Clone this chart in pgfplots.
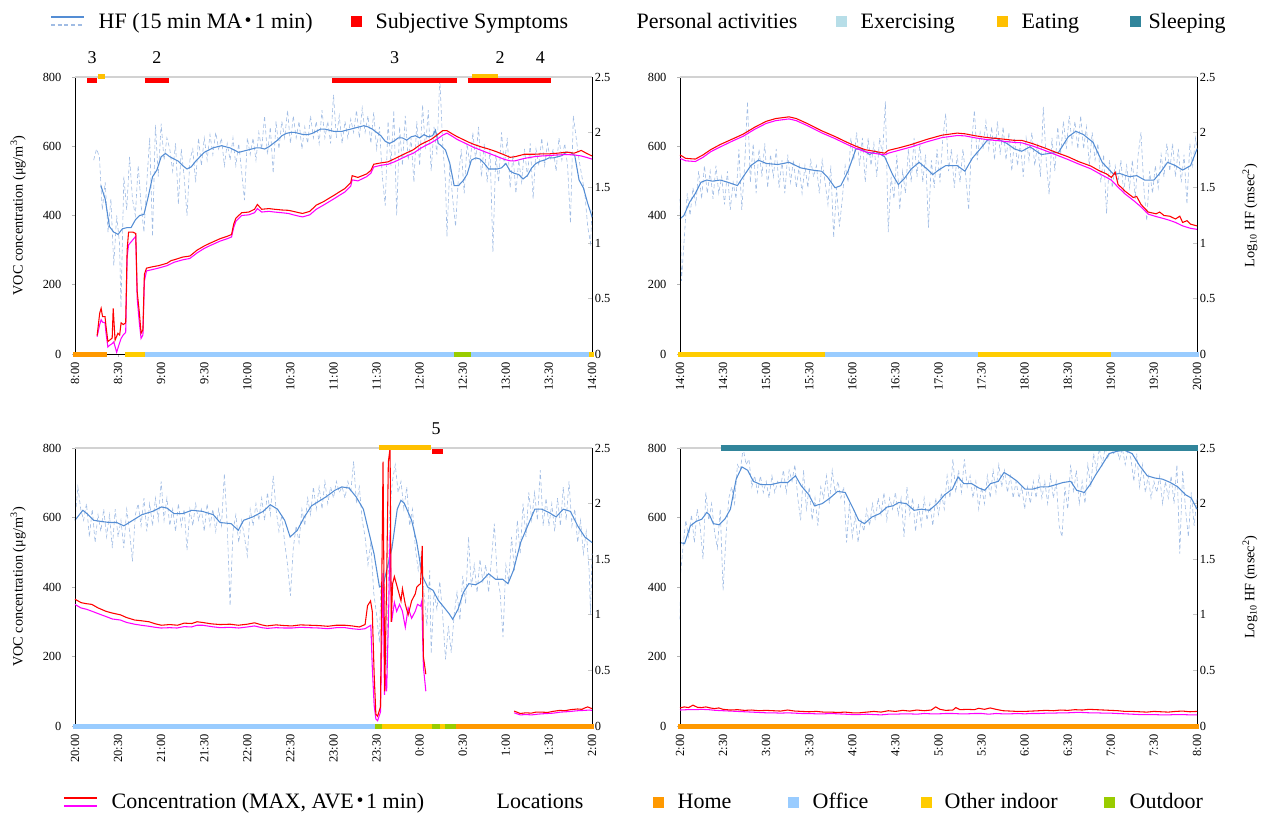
\documentclass[border=0pt]{standalone}
\usepackage{fontspec}
\setmainfont{Liberation Serif}
\newfontfamily\cjk{Noto Sans CJK JP}
\usepackage{pgfplots}
\pgfplotsset{compat=1.18}

\definecolor{hfmac}{RGB}{84,141,212}
\definecolor{hfrawc}{RGB}{160,188,228}
\definecolor{maxc}{RGB}{255,0,0}
\definecolor{avec}{RGB}{255,0,255}
\definecolor{homec}{RGB}{255,153,0}
\definecolor{officec}{RGB}{153,204,255}
\definecolor{otherc}{RGB}{255,204,0}
\definecolor{outdoorc}{RGB}{153,204,0}
\definecolor{eatingc}{RGB}{255,192,0}
\definecolor{exercisec}{RGB}{183,222,232}
\definecolor{sleepc}{RGB}{49,133,155}
\definecolor{symptomc}{RGB}{255,0,0}

\newcommand\tickfont{\fontsize{9.3pt}{10pt}\selectfont}
\newcommand\labfont{\fontsize{10.7pt}{12pt}\selectfont}
\newcommand\legfont{\fontsize{16.5pt}{18pt}\selectfont}
\newcommand\numfont{\fontsize{13.5pt}{15pt}\selectfont}
\newcommand\middot{\kern-0.22em{\cjk ・}\kern-0.22em}

\pgfplotsset{
  panel/.style={scale only axis, width=387.75pt, xmin=0, xmax=360, clip=false, anchor=south west},
  hfax/.style={panel, ymin=0, ymax=2.5, axis x line=none, axis y line*=right,
    ytick={0,0.5,1,1.5,2,2.5}, yticklabels={0,0.5,1,1.5,2,2.5},
    tick align=inside, major tick length=3pt,
    ytick style={draw=gray!45, line width=0.5pt},
    y axis line style={black, line width=0.6pt},
    yticklabel style={font=\tickfont, anchor=west, inner sep=0pt, xshift=2pt}},
  vocax/.style={panel, ymin=0, ymax=800, axis x line*=bottom, axis y line*=left,
    ytick={0,200,400,600,800}, yticklabels={0,200,400,600,800},
    xtick={0,30,...,360},
    tick align=outside, major tick length=2pt,
    tick style={draw=gray!60, line width=0.5pt},
    axis line style={black, line width=0.6pt},
    yticklabel style={font=\tickfont, anchor=east, inner sep=0pt, xshift=-8pt},
    xticklabel style={font=\tickfont, rotate=90, anchor=east, inner sep=0pt},
    xticklabel shift=4pt},
  hfraw/.style={color=hfrawc, densely dashed, line width=0.45pt, forget plot},
  hfma/.style={color=hfmac, line width=0.8pt, forget plot},
  vmax/.style={color=maxc, line width=0.8pt, forget plot},
  vave/.style={color=avec, line width=0.8pt, forget plot},
  locbar/.style={line width=3.75pt, forget plot},
  topbar/.style={line width=3.8pt, forget plot},
  vlab/.style={ylabel={VOC concentration (μg/m\textsuperscript{3})},
    ylabel style={font=\labfont, at={(axis description cs:-0.110,0.5)}, anchor=center}},
  hlab/.style={ylabel={Log\textsubscript{10} HF (msec\textsuperscript{2})},
    ylabel style={font=\labfont, at={(axis description cs:1.1025,0.5)}, anchor=center}},
}
\newcommand\topline{\draw[gray!35, line width=1.1pt] (axis cs:0,800) -- (axis cs:360,800);}

\begin{document}
\begin{tikzpicture}
\useasboundingbox (0,0) rectangle (946.5pt,-610.5pt);

%% ---------------- Panel 1: 8:00-14:00 ----------------
\begin{axis}[hfax, at={(56.25pt,-265.5pt)}, height=207.75pt]
\addplot[hfraw] coordinates {(13,1.75) (15,1.85) (17,1.78) (19,1.30) (21,1.55) (23,1.10) (25,1.40) (27,0.80) (29,1.25) (31,1.00) (32,0.42) (34,1.60) (36,1.30) (38,1.78) (40,1.40) (42,1.25) (44,1.70) (46,1.35) (48,1.10) (50,1.55) (52,1.95) (54,1.06) (56,2.07) (58,1.60) (60,2.08) (62,1.75) (64,1.95) (66,1.85) (68,1.65) (70,1.90) (72,1.35) (74,1.85) (76,1.60) (78,1.25) (80,1.75) (82,1.85) (84,1.55) (86,1.95) (88,1.70) (90,1.95) (92,1.75) (94,1.98) (96,1.80) (98,2.00) (100,1.85) (102,1.95) (104,1.70) (106,1.90) (108,1.75) (110,1.95) (112,1.70) (114,1.90) (116,1.65) (118,1.39) (120,1.95) (122,1.80) (124,1.95) (126,1.75) (128,2.00) (130,1.85) (132,2.15) (134,1.80) (136,2.05) (138,1.63) (140,2.10) (142,1.85) (144,2.10) (146,1.95) (148,2.20) (150,1.90) (152,2.15) (154,1.95) (156,2.10) (158,1.85) (160,2.05) (162,1.90) (164,2.15) (166,1.95) (168,2.10) (170,1.90) (172,2.20) (174,1.95) (176,2.10) (178,1.90) (180,2.34) (182,1.95) (184,2.15) (186,1.90) (188,2.10) (190,1.95) (192,2.12) (194,2.00) (196,2.20) (198,1.95) (200,2.22) (202,2.00) (204,2.15) (206,1.90) (208,2.18) (210,1.85) (212,2.05) (214,1.60) (216,1.34) (218,2.10) (220,1.70) (222,2.20) (224,1.25) (226,2.05) (228,1.70) (230,2.15) (232,1.75) (234,1.95) (236,1.55) (238,2.10) (240,1.70) (242,2.25) (244,1.85) (246,2.20) (248,1.65) (250,2.05) (252,1.80) (254,2.50) (256,1.90) (258,1.55) (259,1.06) (261,1.70) (263,1.40) (265,1.15) (267,1.60) (269,1.85) (271,1.45) (273,1.90) (275,1.70) (277,2.00) (279,1.75) (281,2.05) (283,1.60) (285,1.90) (287,1.55) (289,1.85) (291,0.92) (293,1.80) (295,1.55) (297,2.00) (299,1.70) (301,1.95) (303,1.50) (305,1.80) (307,1.45) (309,1.75) (311,1.55) (313,1.85) (315,1.60) (317,1.90) (319,1.40) (321,1.85) (323,1.70) (325,1.95) (327,1.70) (329,1.90) (331,1.75) (333,1.85) (335,1.65) (337,1.95) (339,1.75) (341,1.90) (343,1.70) (345,1.18) (347,2.15) (349,1.95) (351,1.75) (353,1.60) (355,1.45) (357,1.15) (359,1.00) (360,1.30)};
\addplot[hfma] coordinates {(18,1.52) (21,1.40) (24,1.15) (27,1.10) (30,1.08) (33,1.13) (36,1.14) (39,1.14) (42,1.21) (45,1.25) (48,1.26) (51,1.42) (54,1.60) (57,1.66) (60,1.78) (63,1.81) (66,1.78) (69,1.76) (72,1.74) (75,1.70) (78,1.67) (81,1.69) (84,1.74) (87,1.78) (90,1.82) (93,1.84) (96,1.86) (99,1.87) (102,1.88) (105,1.87) (108,1.86) (111,1.84) (114,1.82) (117,1.83) (120,1.84) (123,1.85) (126,1.86) (129,1.86) (132,1.85) (135,1.87) (138,1.90) (141,1.93) (144,1.97) (147,1.99) (150,2.00) (153,2.00) (156,1.99) (159,1.98) (162,1.98) (165,1.99) (168,2.01) (171,2.03) (174,2.03) (177,2.02) (180,2.01) (183,2.01) (186,2.01) (189,2.02) (192,2.03) (195,2.04) (198,2.05) (201,2.06) (204,2.05) (207,2.03) (210,2.00) (213,1.97) (216,1.92) (219,1.90) (222,1.92) (225,1.95) (228,1.95) (231,1.93) (234,1.96) (237,1.97) (240,1.95) (243,1.98) (246,1.96) (249,1.97) (251,2.02) (253,1.90) (255,1.88) (258,1.84) (261,1.72) (264,1.52) (267,1.52) (270,1.56) (273,1.62) (276,1.75) (279,1.77) (282,1.76) (285,1.72) (288,1.67) (291,1.67) (294,1.67) (297,1.68) (300,1.72) (303,1.65) (306,1.63) (309,1.62) (312,1.58) (315,1.61) (318,1.68) (321,1.72) (324,1.74) (327,1.75) (330,1.77) (333,1.77) (336,1.78) (339,1.79) (342,1.82) (345,1.82) (348,1.79) (351,1.57) (354,1.50) (357,1.36) (360,1.24)};
\end{axis}
\begin{axis}[vocax, vlab, at={(56.25pt,-265.5pt)}, height=207.75pt,
  xticklabels={8:00,8:30,9:00,9:30,10:00,10:30,11:00,11:30,12:00,12:30,13:00,13:30,14:00}]
\topline
\addplot[vave] coordinates {(15.4,50) (17.2,85) (18.2,99) (19.2,92) (20.9,90) (21.6,60) (22.9,20) (24.1,25) (25.9,30) (27.0,35) (29.0,5) (30.5,25) (32.1,45) (33.6,55) (35.3,62) (36.3,280) (37.3,315) (40.3,330) (42.3,340) (43.3,160) (44.8,90) (46,45) (47.3,55) (48.3,210) (49.8,240) (54,244) (58,248) (64,255) (69,265) (75,272) (80,276) (85,292) (90,305) (94,313) (101,326) (106,333) (109,338) (110.5,365) (112,383) (116,400) (121,402) (125,408) (127,420) (130,410) (135,412) (139,410) (144,408) (148.5,406) (152,402) (156,398) (158.5,396) (163.5,402) (168,418) (173,430) (177,440) (181,450) (184,458) (188,468) (192,485) (193,503) (197,500) (203,512) (206,522) (208,540) (213,545) (218,548) (223,556) (228,566) (232,574) (235.6,580) (240.6,594) (244,602) (248,610) (252,620) (256,632) (259,638) (263,628) (266,620) (270,612) (274,604) (278,596) (283,588) (288,580) (293,572) (299,562) (303,558) (306.5,558) (313,565) (320,570) (325,572) (330,573) (336,575) (342.6,576) (347.6,575) (352.5,572) (356,568) (360,563)};
\addplot[vmax] coordinates {(15.4,53) (17.2,118) (18.2,132) (19.2,108) (20.9,108) (21.6,80) (22.9,36) (24.1,40) (25.9,46) (26.6,132) (27.9,40) (29.9,60) (31.1,55) (32.1,90) (33.6,85) (35.3,90) (36.3,300) (37.3,352) (40.3,352) (42.3,348) (43.3,180) (44.8,120) (46,60) (47.3,70) (48.3,230) (49.8,248) (54,252) (58,255) (64,262) (67,270) (69,272) (75,280) (80,283) (85,300) (90,312) (94,320) (101,333) (106,340) (109,345) (110.5,375) (112,392) (116,408) (121,410) (125,418) (127,432) (130,418) (135,420) (139,418) (144,416) (148.5,415) (152,412) (156,408) (158.5,406) (163.5,412) (168,430) (173,440) (177,450) (181,460) (184,468) (188,478) (192,495) (193,515) (197,510) (203,520) (206,530) (208,548) (213,552) (218,555) (223,565) (228,575) (232,583) (235.6,590) (240.6,605) (244,612) (248,620) (252,632) (256,645) (259,645) (263,635) (266,628) (270,620) (274,612) (278,605) (283,598) (288,592) (293,585) (299,575) (303,568) (306.5,570) (313,577) (320,577) (325,578) (330,578) (336,580) (342.6,583) (347.6,580) (352.5,588) (356,580) (360,572)};
% locations
\addplot[locbar, homec] coordinates {(-1.2,0) (22,0)};
\addplot[locbar, otherc] coordinates {(35,0) (49,0)};
\addplot[locbar, officec] coordinates {(49,0) (264,0)};
\addplot[locbar, outdoorc] coordinates {(264,0) (276,0)};
\addplot[locbar, officec] coordinates {(276,0) (358,0)};
\addplot[locbar, otherc] coordinates {(358,0) (361.2,0)};
% activities and symptoms
\addplot[topbar, eatingc] coordinates {(16,801) (21,801)};
\addplot[topbar, eatingc, line width=3pt] coordinates {(276.7,803) (294.8,803)};
\addplot[topbar, symptomc] coordinates {(8.7,789) (15.4,789)};
\addplot[topbar, symptomc] coordinates {(48.5,789) (65.7,789)};
\addplot[topbar, symptomc] coordinates {(179,789) (266,789)};
\addplot[topbar, symptomc] coordinates {(273.4,789) (331.4,789)};
\node[font=\numfont, anchor=base] at (axis cs:12,800) [yshift=10pt] {3};
\node[font=\numfont, anchor=base] at (axis cs:57,800) [yshift=10pt] {2};
\node[font=\numfont, anchor=base] at (axis cs:222.5,800) [yshift=10pt] {3};
\node[font=\numfont, anchor=base] at (axis cs:296,800) [yshift=10pt] {2};
\node[font=\numfont, anchor=base] at (axis cs:324,800) [yshift=10pt] {4};
\end{axis}

%% ---------------- Panel 2: 14:00-20:00 ----------------
\begin{axis}[hfax, hlab, at={(510pt,-265.5pt)}, height=207.75pt]
\addplot[hfraw] coordinates {(0,1.40) (1,0.66) (3,1.05) (5,1.45) (7,1.25) (9,1.50) (11,1.35) (13,1.65) (15,1.40) (17,1.70) (19,1.45) (21,1.65) (23,1.40) (25,1.70) (27,1.45) (29,1.60) (31,1.35) (33,1.65) (35,1.30) (37,1.55) (39,1.40) (41,1.85) (43,1.30) (45,1.70) (47,2.28) (49,1.55) (51,1.90) (53,1.45) (55,1.85) (57,1.60) (59,1.90) (61,1.50) (63,1.80) (65,1.60) (67,1.85) (69,1.50) (71,1.75) (73,1.45) (75,1.80) (77,1.55) (79,1.75) (81,1.50) (83,1.70) (85,1.45) (87,1.70) (89,1.50) (91,1.75) (93,1.60) (95,1.70) (97,1.45) (99,1.75) (101,1.55) (103,1.35) (105,1.70) (107,1.05) (109,1.50) (111,1.15) (113,1.40) (115,1.70) (117,1.55) (119,1.95) (121,1.75) (123,2.00) (125,1.70) (127,1.95) (129,1.55) (131,1.95) (133,1.70) (135,1.90) (137,1.60) (139,1.95) (141,1.80) (143,2.28) (145,1.10) (147,1.60) (149,1.40) (151,1.80) (153,1.30) (155,1.65) (157,1.45) (159,1.85) (161,1.55) (163,1.95) (165,1.60) (167,1.90) (169,1.55) (171,1.80) (173,1.14) (175,1.75) (177,1.50) (179,1.85) (181,1.55) (183,1.95) (185,2.17) (187,1.65) (189,1.85) (191,1.50) (193,1.80) (195,1.55) (197,1.85) (199,1.60) (201,1.30) (203,1.90) (205,2.20) (207,1.75) (209,2.00) (211,1.85) (213,2.10) (215,1.85) (217,2.05) (219,1.75) (221,2.10) (223,1.80) (225,2.05) (227,1.75) (229,2.00) (231,1.65) (233,1.95) (235,1.70) (237,1.90) (239,1.60) (241,1.95) (243,1.75) (245,2.00) (247,1.70) (249,1.90) (251,1.60) (253,2.23) (255,1.75) (257,1.44) (259,1.95) (261,1.65) (263,2.05) (265,1.80) (267,2.10) (269,1.85) (271,2.15) (273,1.90) (275,2.10) (277,1.85) (279,2.15) (281,1.85) (283,2.05) (285,1.70) (287,2.00) (289,1.75) (291,1.90) (293,1.55) (295,1.80) (297,1.27) (299,1.75) (301,1.50) (303,1.70) (305,1.55) (307,1.75) (309,1.45) (311,1.70) (313,1.50) (315,1.75) (317,1.40) (319,1.80) (321,2.00) (323,1.50) (325,1.20) (327,1.65) (329,1.45) (331,1.70) (333,1.50) (335,1.80) (337,1.60) (339,1.90) (341,1.65) (343,1.90) (345,1.60) (347,1.85) (349,1.55) (351,1.80) (353,1.35) (355,1.90) (357,1.70) (359,1.95) (360,1.85)};
\addplot[hfma] coordinates {(0,1.22) (2.7,1.25) (6.7,1.37) (10.7,1.45) (14.6,1.55) (18.6,1.57) (22.6,1.56) (28,1.57) (33.3,1.55) (40,1.52) (44,1.60) (49.3,1.70) (54.6,1.75) (60,1.72) (68,1.71) (76,1.73) (84,1.68) (92,1.66) (98.5,1.65) (102.5,1.60) (108,1.50) (112,1.52) (117,1.65) (122.5,1.85) (126.5,1.85) (132,1.80) (136,1.83) (142.5,1.78) (148,1.62) (152,1.53) (156,1.58) (161,1.67) (166.5,1.73) (172,1.67) (176,1.62) (180,1.66) (185,1.70) (193,1.70) (198.4,1.65) (203.7,1.77) (209,1.85) (214,1.93) (219.7,1.95) (227.7,1.90) (233,1.85) (238,1.83) (243.7,1.87) (251.6,1.80) (257,1.81) (263.6,1.82) (270.3,1.96) (275.6,2.01) (281,1.98) (287.6,1.91) (294,1.73) (302,1.62) (306,1.63) (313,1.60) (318,1.61) (323.5,1.57) (330,1.57) (334,1.63) (339.5,1.73) (345,1.70) (350,1.66) (355.5,1.70) (360,1.85)};
\end{axis}
\begin{axis}[vocax, at={(510pt,-265.5pt)}, height=207.75pt,
  xticklabels={14:00,14:30,15:00,15:30,16:00,16:30,17:00,17:30,18:00,18:30,19:00,19:30,20:00}]
\topline
\addplot[vave] coordinates {(0,565) (4,558) (10.7,556) (16,568) (21.3,584) (28,598) (36,614) (44,629) (52,649) (60,666) (66.6,674) (75.9,679) (81,674) (89,659) (98.5,639) (108,622) (116,606) (122.5,594) (129,584) (136,579) (142.5,575) (145,580) (153,589) (161,598) (172,613) (182.4,625) (193,631) (198.4,630) (206,624) (214,619) (222,616) (233,611) (238,610) (246,600) (254,588) (262,575) (270,562) (278,548) (286,535) (291.6,522) (297,510) (300.4,502) (305,482) (310,462) (315.6,444) (321,425) (326,404) (331.5,397) (337,391) (341,386) (345,380) (350,370) (355.5,363) (360,360)};
\addplot[vmax] coordinates {(0,575) (4,565) (10.7,563) (16,575) (21.3,590) (28,605) (36,620) (44,635) (52,655) (60,672) (66.6,680) (75.9,685) (81,680) (89,665) (98.5,645) (108,628) (116,612) (122.5,600) (129,590) (136,585) (142.5,580) (145,588) (153,596) (161,605) (172,620) (182.4,632) (193,638) (198.4,636) (206,630) (214,625) (222,622) (233,617) (238,617) (246,607) (254,595) (262,582) (270,570) (278,555) (286,543) (291.6,530) (297,520) (300.4,510) (303,525) (305,490) (310,470) (315.6,452) (318,455) (321,432) (326,410) (331.5,405) (334,410) (337,400) (341,398) (345,390) (348,398) (350,380) (353,385) (355.5,375) (360,370)};
\addplot[locbar, otherc] coordinates {(-1.2,0) (100.7,0)};
\addplot[locbar, officec] coordinates {(100.7,0) (207.7,0)};
\addplot[locbar, otherc] coordinates {(207.7,0) (300.4,0)};
\addplot[locbar, officec] coordinates {(300.4,0) (361.2,0)};
\end{axis}

%% ---------------- Panel 3: 20:00-2:00 ----------------
\begin{axis}[hfax, at={(56.25pt,-544.5pt)}, height=208.5pt]
\addplot[hfraw] coordinates {(0,1.85) (2,2.15) (4,1.95) (6,1.85) (8,2.00) (10,1.70) (12,1.95) (14,1.65) (16,1.90) (18,1.75) (20,1.95) (22,1.70) (24,1.90) (26,1.60) (28,1.95) (30,1.70) (32,1.85) (34,1.60) (36,1.95) (38,1.75) (40,1.48) (42,1.90) (44,2.00) (46,1.80) (48,2.05) (50,1.75) (52,2.00) (54,1.80) (56,2.05) (58,1.85) (60,2.20) (62,1.85) (64,2.05) (66,1.80) (68,1.95) (70,1.75) (72,2.00) (74,1.80) (76,1.95) (78,1.58) (80,1.95) (82,1.80) (84,2.00) (86,1.85) (88,1.95) (90,1.75) (92,2.00) (94,1.80) (96,1.95) (98,1.75) (100,1.95) (102,1.80) (104,2.27) (106,1.80) (108,1.08) (110,1.75) (112,1.90) (114,1.65) (116,1.85) (118,1.70) (120,1.53) (122,1.95) (124,1.80) (126,2.00) (128,1.85) (130,2.05) (132,1.85) (134,2.10) (136,1.90) (138,2.25) (140,1.95) (142,1.75) (144,1.90) (146,1.65) (148,1.45) (150,1.17) (152,1.60) (154,1.80) (156,1.65) (158,1.95) (160,1.80) (162,2.05) (164,1.90) (166,2.15) (168,1.95) (170,2.15) (172,1.95) (174,2.20) (176,2.00) (178,2.15) (180,2.05) (182,2.20) (184,2.10) (186,2.15) (188,2.05) (190,2.20) (192,2.10) (194,2.38) (196,2.00) (198,2.15) (200,1.85) (202,1.70) (204,1.45) (206,1.65) (208,1.20) (210,1.00) (212,0.75) (213,1.30) (215,1.40) (217,0.50) (219,1.90) (221,2.20) (223,2.35) (225,2.10) (227,2.20) (229,1.95) (231,2.15) (233,1.80) (235,1.95) (237,1.60) (239,1.40) (241,1.55) (243,1.20) (245,0.90) (247,1.40) (248,0.65) (250,1.20) (252,1.05) (254,1.30) (256,1.00) (258,0.60) (260,0.90) (262,0.66) (264,1.00) (266,1.20) (268,0.95) (270,1.35) (272,1.10) (274,1.70) (276,1.25) (278,1.45) (280,1.20) (282,1.50) (284,1.30) (286,1.45) (288,1.20) (290,1.50) (292,1.82) (294,1.35) (296,1.20) (298,0.80) (300,1.45) (302,1.30) (304,1.70) (306,1.40) (308,1.85) (310,1.55) (312,2.00) (314,1.70) (316,2.10) (318,1.85) (320,2.10) (322,1.85) (324,2.30) (326,1.80) (328,2.05) (330,1.80) (332,2.00) (334,1.75) (336,2.05) (338,1.80) (340,2.15) (342,1.85) (344,2.20) (346,1.80) (348,1.95) (350,1.65) (352,1.85) (354,1.55) (356,1.75) (358,1.40) (359,1.00) (360,1.55)};
\addplot[hfma] coordinates {(0,1.85) (3,1.90) (5.5,1.94) (9.2,1.90) (13,1.85) (18,1.84) (24,1.83) (29,1.83) (34,1.80) (39,1.84) (46.5,1.90) (54,1.93) (60.2,1.97) (64,1.96) (69,1.91) (75,1.91) (81.4,1.94) (88.8,1.93) (96.3,1.90) (101,1.83) (108.7,1.82) (113.7,1.76) (117.4,1.85) (123.7,1.88) (131,1.93) (136,1.99) (141,1.95) (146,1.85) (149.8,1.70) (154.8,1.76) (159.7,1.88) (164.7,1.98) (169.7,2.02) (174.7,2.06) (181,2.12) (185.8,2.15) (190.8,2.14) (195.8,2.06) (200.8,1.95) (204.5,1.75) (208.2,1.55) (212,1.25) (214.5,1.26) (217,1.40) (220.7,1.60) (224.4,1.95) (227,2.03) (229.4,2.00) (234.4,1.85) (238,1.65) (241.8,1.35) (245.6,1.25) (249.3,1.22) (253,1.13) (256.8,1.07) (260.5,1.01) (263,0.96) (266.7,1.05) (270.4,1.20) (274.2,1.28) (279,1.27) (283,1.30) (288,1.37) (292.8,1.32) (297.8,1.32) (301.5,1.28) (305.3,1.40) (310.3,1.65) (315.2,1.80) (320.2,1.95) (325,1.95) (330,1.92) (335,1.88) (340,1.95) (345,1.93) (350,1.80) (355,1.70) (360,1.65)};
\end{axis}
\begin{axis}[vocax, vlab, at={(56.25pt,-544.5pt)}, height=208.5pt,
  xticklabels={20:00,20:30,21:00,21:30,22:00,22:30,23:00,23:30,0:00,0:30,1:00,1:30,2:00}]
\topline
\addplot[vave] coordinates {(0,350) (4,340) (8,336) (12,330) (17,322) (21.6,315) (26,308) (31.6,305) (36,298) (41.5,293) (46,290) (51.5,287) (56,284) (60,282) (66,283) (71,282) (76,286) (81,285) (85,290) (89,290) (95,286) (101,283) (108,284) (114,282) (120,285) (125,288) (130,283) (134,281) (140,283) (146,282) (151,282) (157,284) (163,283) (170,282) (176,280) (182,283) (188,283) (193,280) (198,278) (202,280) (204,285) (206,290) (207,170) (208.3,60) (209.5,20) (210.7,15) (212.7,40) (214.5,440) (215.5,90) (216.3,150) (217,100) (218.5,350) (219.4,558) (220.5,300) (222.4,356) (224,330) (226,350) (228,330) (230,284) (232,340) (234.4,310) (236.9,330) (238.5,350) (240.6,345) (241.5,360) (242.6,170) (244.3,100)};
\addplot[vave] coordinates {(305.8,38) (310,32) (314,33) (318,32) (322,34) (325,35) (329,36) (333,37) (338,40) (342,41) (345,42) (350,44) (355,45) (358,46) (360,45)};
\addplot[vmax] coordinates {(0,365) (4.2,355) (8,352) (11.7,350) (16,340) (21.6,330) (26,325) (31.6,320) (36,312) (41.5,305) (46,303) (51.5,300) (56,294) (60.2,290) (66,292) (71.4,290) (76,296) (81.4,295) (85,300) (88.8,298) (95,294) (101,292) (108,293) (113.7,290) (120,293) (125,297) (130,291) (133.6,288) (140,291) (146,289) (151,288) (157,291) (163.5,290) (170,289) (176,287) (182,290) (188,290) (193,288) (198,285) (202,292) (203.7,346) (205.8,360) (207,330) (208.3,150) (209.5,34) (210.7,28) (212.7,55) (214.5,761) (215.7,100) (217,420) (218.2,760) (219.4,800) (220.2,300) (221.2,410) (222.4,430) (224.4,400) (227,360) (228,395) (230,350) (232,320) (234.4,360) (236.9,380) (238,400) (240.6,410) (241.8,518) (242.6,200) (244.3,149)};
\addplot[vmax] coordinates {(305.8,43) (310,36) (314,38) (317.7,37) (321,40) (325,40) (329,39) (332.6,42) (337.6,45) (341,44) (345,47) (350,49) (353,48) (355,52) (357,55) (360,50)};
\addplot[locbar, officec] coordinates {(-1.2,0) (209,0)};
\addplot[locbar, outdoorc] coordinates {(209,0) (214,0)};
\addplot[locbar, otherc] coordinates {(214,0) (248.5,0)};
\addplot[locbar, outdoorc] coordinates {(248.5,0) (254,0)};
\addplot[locbar, otherc] coordinates {(254,0) (257.5,0)};
\addplot[locbar, outdoorc] coordinates {(257.5,0) (265.5,0)};
\addplot[locbar, homec] coordinates {(265.5,0) (361.2,0)};
\addplot[topbar, eatingc] coordinates {(211.5,801) (248,801)};
\addplot[topbar, symptomc] coordinates {(248.5,790) (256,790)};
\node[font=\numfont, anchor=base] at (axis cs:251.5,800) [yshift=10pt] {5};
\end{axis}

%% ---------------- Panel 4: 2:00-8:00 ----------------
\begin{axis}[hfax, hlab, at={(510pt,-544.5pt)}, height=208.5pt]
\addplot[hfraw] coordinates {(0,0.96) (0.5,1.38) (2,1.60) (4,1.85) (6,1.70) (8,1.90) (10,1.65) (12,1.95) (14,1.80) (16,1.50) (18,2.10) (20,1.85) (22,2.00) (24,1.75) (26,1.60) (28,1.95) (30,1.22) (32,1.70) (34,2.05) (36,2.15) (38,2.00) (40,2.35) (42,2.30) (44,2.50) (46,2.35) (48,2.40) (50,2.15) (52,2.25) (54,2.10) (56,2.25) (58,2.10) (60,2.20) (62,2.05) (64,2.25) (66,2.10) (68,2.20) (70,2.15) (72,2.30) (74,2.10) (76,2.30) (78,2.20) (80,2.35) (82,2.05) (84,1.85) (86,2.30) (88,1.95) (90,2.15) (92,1.85) (94,2.05) (96,1.80) (98,2.15) (100,2.05) (102,2.25) (104,2.00) (106,2.30) (108,2.10) (110,2.20) (112,2.05) (114,2.15) (116,1.65) (118,2.00) (120,1.70) (122,1.90) (124,1.65) (126,1.85) (128,1.75) (130,1.95) (132,1.80) (134,2.00) (136,1.85) (138,2.05) (140,1.90) (142,2.10) (144,1.85) (146,2.05) (148,1.95) (150,2.10) (152,1.90) (154,2.05) (156,1.70) (158,2.15) (160,1.90) (162,2.05) (164,1.75) (166,2.00) (168,1.80) (170,2.05) (172,1.85) (174,2.00) (176,1.80) (178,2.05) (180,1.90) (182,2.10) (184,1.95) (186,2.25) (188,2.05) (190,2.40) (192,2.10) (194,2.30) (196,2.10) (198,2.40) (200,2.15) (202,2.25) (204,2.05) (206,2.20) (208,1.95) (210,2.15) (212,2.00) (214,2.25) (216,2.05) (218,2.30) (220,2.10) (222,2.35) (224,2.15) (226,2.30) (228,2.10) (230,2.25) (232,2.05) (234,2.20) (236,2.05) (238,2.15) (240,1.95) (242,2.15) (244,2.00) (246,2.20) (248,2.05) (250,2.25) (252,2.05) (254,2.20) (256,2.00) (258,2.25) (260,2.05) (262,2.20) (264,1.80) (266,1.70) (268,2.15) (270,1.95) (272,2.35) (274,2.10) (276,2.30) (278,2.00) (280,2.20) (282,2.00) (284,2.35) (286,2.15) (288,2.45) (290,2.30) (292,2.50) (294,2.35) (296,2.50) (298,2.40) (300,2.50) (302,2.45) (304,2.50) (306,2.40) (308,2.50) (310,2.35) (312,2.50) (314,2.40) (316,2.20) (318,2.45) (320,2.15) (322,2.35) (324,2.10) (326,2.25) (328,2.05) (330,2.20) (332,2.10) (334,2.25) (336,2.00) (338,2.20) (340,2.05) (342,2.25) (344,2.00) (346,2.35) (348,1.55) (350,2.30) (352,1.95) (354,1.70) (356,2.10) (358,1.80) (360,2.05)};
\addplot[hfma] coordinates {(0,1.65) (3.2,1.64) (7.2,1.80) (11.2,1.84) (15.2,1.86) (18.6,1.92) (20.5,1.90) (23.2,1.82) (27.2,1.81) (31.2,1.86) (35.1,1.95) (39.1,2.22) (43.1,2.33) (47.1,2.30) (51.1,2.20) (56.5,2.17) (63,2.17) (69.8,2.19) (75,2.19) (80.4,2.25) (84.4,2.16) (89.7,2.08) (93.7,1.98) (99,2.00) (104.4,2.05) (109.7,2.11) (115,2.10) (120.4,1.96) (124.4,1.85) (128.4,1.82) (133.7,1.88) (139,1.91) (144.3,1.97) (148.3,1.98) (152.3,2.01) (157.6,2.00) (163,1.94) (168.3,1.95) (173.6,1.94) (179,2.00) (184.3,2.08) (189.6,2.13) (193.6,2.24) (197.6,2.18) (203,2.18) (208.2,2.14) (212.2,2.12) (216.2,2.18) (221.6,2.20) (225.6,2.28) (229.5,2.25) (234.9,2.20) (240.2,2.13) (245.5,2.13) (250.9,2.15) (256.2,2.15) (261.5,2.17) (266.8,2.19) (272.1,2.20) (276.2,2.12) (281.5,2.10) (285.5,2.17) (289.5,2.26) (293.5,2.34) (298.8,2.45) (304.1,2.47) (309.4,2.48) (314.8,2.45) (320.1,2.34) (325.4,2.25) (330.7,2.23) (336,2.22) (341.4,2.19) (346.7,2.15) (352,2.08) (356,2.05) (360,1.95)};
\end{axis}
\begin{axis}[vocax, at={(510pt,-544.5pt)}, height=208.5pt,
  xticklabels={2:00,2:30,3:00,3:30,4:00,4:30,5:00,5:30,6:00,6:30,7:00,7:30,8:00}]
\topline
\addplot[vave] coordinates {(0,46) (5,47) (10,47) (15,48) (20,47) (25,45) (30,44) (35,43) (40,42) (45,41) (50,40) (55,39) (60,38) (65,38) (70,37) (75,38) (80,37) (85,36) (90,36) (95,35) (100,35) (105,36) (110,35) (115,34) (120,33) (125,33) (130,34) (135,33) (140,32) (145,34) (150,34) (155,35) (160,35) (165,34) (170,36) (175,35) (180,35) (185,36) (190,36) (195,35) (200,35) (205,36) (210,36) (215,34) (220,36) (225,35) (230,35) (235,36) (240,35) (245,36) (250,36) (255,37) (260,37) (265,38) (270,38) (275,39) (280,39) (285,38) (290,38) (295,37) (300,37) (305,36) (310,35) (315,34) (320,33) (325,33) (330,33) (335,32) (340,32) (345,33) (350,33) (355,32) (360,32)};
\addplot[vmax] coordinates {(0,52) (3,55) (6,53) (9,60) (12,54) (15,53) (18,55) (21,52) (24,50) (27,52) (30,48) (35,46) (40,47) (45,45) (50,46) (55,44) (60,45) (65,44) (70,43) (75,46) (80,43) (85,42) (90,41) (95,42) (100,40) (105,40) (110,39) (115,40) (120,38) (125,38) (130,40) (135,42) (140,40) (145,44) (150,42) (155,45) (160,43) (165,46) (170,44) (175,46) (178,55) (181,48) (185,45) (190,46) (192,53) (195,47) (200,48) (205,47) (208,51) (212,48) (216,52) (220,48) (225,44) (230,43) (235,42) (240,42) (245,43) (250,44) (255,45) (260,44) (265,46) (270,45) (275,47) (280,46) (285,48) (290,47) (295,46) (300,45) (305,44) (310,42) (315,42) (320,41) (325,40) (330,42) (335,41) (340,40) (345,42) (350,43) (355,41) (360,42)};
\addplot[locbar, homec] coordinates {(-1.2,0) (361.2,0)};
\addplot[topbar, sleepc, line width=4.5pt] coordinates {(28.2,801) (361,801)};
\end{axis}

%% ---------------- Legends ----------------
\begin{axis}[at={(0pt,0pt)}, anchor=north west, scale only axis, width=946.5pt, height=610.5pt,
  xmin=0, xmax=1262, ymin=0, ymax=814, y dir=reverse, hide axis, clip=false]
\addplot[color=hfmac, line width=0.9pt, forget plot] coordinates {(51,17) (84,17)};
\addplot[color=hfrawc, densely dashed, line width=0.9pt, forget plot] coordinates {(51,25) (84,25)};
\addplot[only marks, mark=square*, mark size=3.6pt, color=symptomc, forget plot] coordinates {(356.5,21)};
\addplot[only marks, mark=square*, mark size=3.6pt, color=exercisec, forget plot] coordinates {(841.5,21)};
\addplot[only marks, mark=square*, mark size=3.6pt, color=eatingc, forget plot] coordinates {(1002,21)};
\addplot[only marks, mark=square*, mark size=3.6pt, color=sleepc, forget plot] coordinates {(1135,21)};
\node[font=\legfont, anchor=base west] at (axis cs:94,28) {HF (15 min MA\middot 1 min)};
\node[font=\legfont, anchor=base west] at (axis cs:371,28) {Subjective Symptoms};
\node[font=\legfont, anchor=base west] at (axis cs:632,28) {Personal activities};
\node[font=\legfont, anchor=base west] at (axis cs:856,28) {Exercising};
\node[font=\legfont, anchor=base west] at (axis cs:1017,28) {Eating};
\node[font=\legfont, anchor=base west] at (axis cs:1144,28) {Sleeping};
\addplot[color=maxc, line width=0.9pt, forget plot] coordinates {(64,798) (97,798)};
\addplot[color=avec, line width=0.9pt, forget plot] coordinates {(64,806) (97,806)};
\addplot[only marks, mark=square*, mark size=3.6pt, color=homec, forget plot] coordinates {(658,802)};
\addplot[only marks, mark=square*, mark size=3.6pt, color=officec, forget plot] coordinates {(793,802)};
\addplot[only marks, mark=square*, mark size=3.6pt, color=otherc, forget plot] coordinates {(926,802)};
\addplot[only marks, mark=square*, mark size=3.6pt, color=outdoorc, forget plot] coordinates {(1109,802)};
\node[font=\legfont, anchor=base west] at (axis cs:107,808) {Concentration (MAX, AVE\middot 1 min)};
\node[font=\legfont, anchor=base west] at (axis cs:492,808) {Locations};
\node[font=\legfont, anchor=base west] at (axis cs:673,808) {Home};
\node[font=\legfont, anchor=base west] at (axis cs:808,808) {Office};
\node[font=\legfont, anchor=base west] at (axis cs:940,808) {Other indoor};
\node[font=\legfont, anchor=base west] at (axis cs:1125,808) {Outdoor};
\end{axis}
\end{tikzpicture}
\end{document}
